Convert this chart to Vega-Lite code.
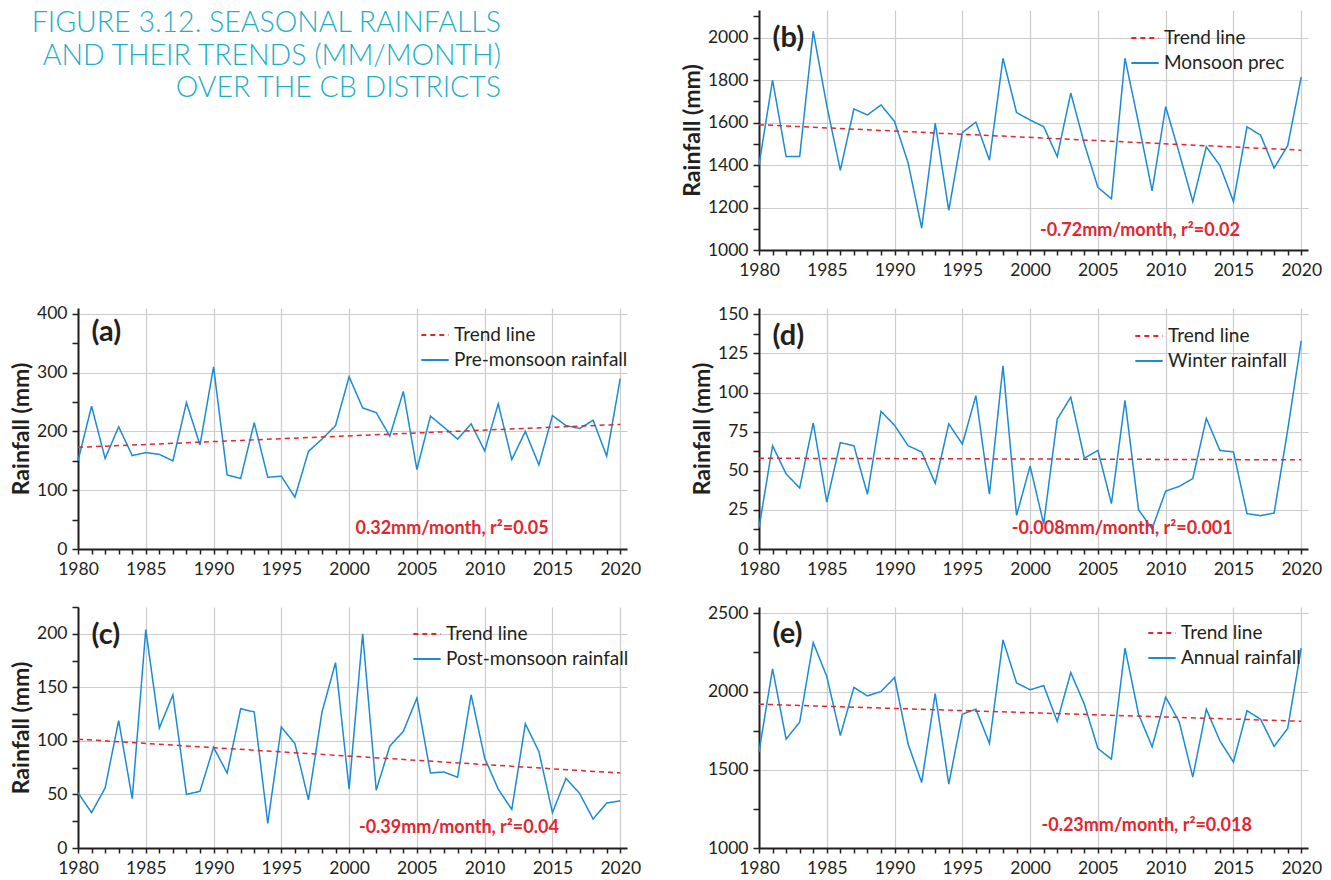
{
  "$schema": "https://vega.github.io/schema/vega-lite/v6.json",
  "padding": {"left": 10, "top": 7, "right": 5, "bottom": 5},
  "background": "white",
  "datasets": {
    "a": [
      {"year":1980,"rainfall":150,"series":"Pre-monsoon rainfall"},{"year":1981,"rainfall":243,"series":"Pre-monsoon rainfall"},{"year":1982,"rainfall":154,"series":"Pre-monsoon rainfall"},{"year":1983,"rainfall":208,"series":"Pre-monsoon rainfall"},{"year":1984,"rainfall":159,"series":"Pre-monsoon rainfall"},{"year":1985,"rainfall":164,"series":"Pre-monsoon rainfall"},{"year":1986,"rainfall":161,"series":"Pre-monsoon rainfall"},{"year":1987,"rainfall":150,"series":"Pre-monsoon rainfall"},{"year":1988,"rainfall":249,"series":"Pre-monsoon rainfall"},{"year":1989,"rainfall":177,"series":"Pre-monsoon rainfall"},{"year":1990,"rainfall":310,"series":"Pre-monsoon rainfall"},{"year":1991,"rainfall":126,"series":"Pre-monsoon rainfall"},{"year":1992,"rainfall":120,"series":"Pre-monsoon rainfall"},{"year":1993,"rainfall":215,"series":"Pre-monsoon rainfall"},{"year":1994,"rainfall":122,"series":"Pre-monsoon rainfall"},{"year":1995,"rainfall":124,"series":"Pre-monsoon rainfall"},{"year":1996,"rainfall":88,"series":"Pre-monsoon rainfall"},{"year":1997,"rainfall":166,"series":"Pre-monsoon rainfall"},{"year":1998,"rainfall":187,"series":"Pre-monsoon rainfall"},{"year":1999,"rainfall":210,"series":"Pre-monsoon rainfall"},{"year":2000,"rainfall":293,"series":"Pre-monsoon rainfall"},{"year":2001,"rainfall":240,"series":"Pre-monsoon rainfall"},{"year":2002,"rainfall":232,"series":"Pre-monsoon rainfall"},{"year":2003,"rainfall":192,"series":"Pre-monsoon rainfall"},{"year":2004,"rainfall":268,"series":"Pre-monsoon rainfall"},{"year":2005,"rainfall":135,"series":"Pre-monsoon rainfall"},{"year":2006,"rainfall":226,"series":"Pre-monsoon rainfall"},{"year":2007,"rainfall":207,"series":"Pre-monsoon rainfall"},{"year":2008,"rainfall":187,"series":"Pre-monsoon rainfall"},{"year":2009,"rainfall":213,"series":"Pre-monsoon rainfall"},{"year":2010,"rainfall":167,"series":"Pre-monsoon rainfall"},{"year":2011,"rainfall":247,"series":"Pre-monsoon rainfall"},{"year":2012,"rainfall":152,"series":"Pre-monsoon rainfall"},{"year":2013,"rainfall":200,"series":"Pre-monsoon rainfall"},{"year":2014,"rainfall":143,"series":"Pre-monsoon rainfall"},{"year":2015,"rainfall":227,"series":"Pre-monsoon rainfall"},{"year":2016,"rainfall":210,"series":"Pre-monsoon rainfall"},{"year":2017,"rainfall":205,"series":"Pre-monsoon rainfall"},{"year":2018,"rainfall":219,"series":"Pre-monsoon rainfall"},{"year":2019,"rainfall":158,"series":"Pre-monsoon rainfall"},{"year":2020,"rainfall":290,"series":"Pre-monsoon rainfall"},
      {"year":1980,"rainfall":173,"series":"Trend line"},{"year":2020,"rainfall":212,"series":"Trend line"}
    ],
    "b": [
      {"year":1980,"rainfall":1400,"series":"Monsoon prec"},{"year":1981,"rainfall":1800,"series":"Monsoon prec"},{"year":1982,"rainfall":1440,"series":"Monsoon prec"},{"year":1983,"rainfall":1440,"series":"Monsoon prec"},{"year":1984,"rainfall":2030,"series":"Monsoon prec"},{"year":1985,"rainfall":1680,"series":"Monsoon prec"},{"year":1986,"rainfall":1375,"series":"Monsoon prec"},{"year":1987,"rainfall":1664,"series":"Monsoon prec"},{"year":1988,"rainfall":1636,"series":"Monsoon prec"},{"year":1989,"rainfall":1683,"series":"Monsoon prec"},{"year":1990,"rainfall":1605,"series":"Monsoon prec"},{"year":1991,"rainfall":1410,"series":"Monsoon prec"},{"year":1992,"rainfall":1103,"series":"Monsoon prec"},{"year":1993,"rainfall":1597,"series":"Monsoon prec"},{"year":1994,"rainfall":1186,"series":"Monsoon prec"},{"year":1995,"rainfall":1553,"series":"Monsoon prec"},{"year":1996,"rainfall":1602,"series":"Monsoon prec"},{"year":1997,"rainfall":1423,"series":"Monsoon prec"},{"year":1998,"rainfall":1902,"series":"Monsoon prec"},{"year":1999,"rainfall":1647,"series":"Monsoon prec"},{"year":2000,"rainfall":1612,"series":"Monsoon prec"},{"year":2001,"rainfall":1581,"series":"Monsoon prec"},{"year":2002,"rainfall":1440,"series":"Monsoon prec"},{"year":2003,"rainfall":1739,"series":"Monsoon prec"},{"year":2004,"rainfall":1500,"series":"Monsoon prec"},{"year":2005,"rainfall":1295,"series":"Monsoon prec"},{"year":2006,"rainfall":1241,"series":"Monsoon prec"},{"year":2007,"rainfall":1903,"series":"Monsoon prec"},{"year":2008,"rainfall":1597,"series":"Monsoon prec"},{"year":2009,"rainfall":1278,"series":"Monsoon prec"},{"year":2010,"rainfall":1675,"series":"Monsoon prec"},{"year":2011,"rainfall":1456,"series":"Monsoon prec"},{"year":2012,"rainfall":1228,"series":"Monsoon prec"},{"year":2013,"rainfall":1486,"series":"Monsoon prec"},{"year":2014,"rainfall":1398,"series":"Monsoon prec"},{"year":2015,"rainfall":1228,"series":"Monsoon prec"},{"year":2016,"rainfall":1580,"series":"Monsoon prec"},{"year":2017,"rainfall":1541,"series":"Monsoon prec"},{"year":2018,"rainfall":1386,"series":"Monsoon prec"},{"year":2019,"rainfall":1491,"series":"Monsoon prec"},{"year":2020,"rainfall":1814,"series":"Monsoon prec"},
      {"year":1980,"rainfall":1590,"series":"Trend line"},{"year":2020,"rainfall":1470,"series":"Trend line"}
    ],
    "c": [
      {"year":1980,"rainfall":51.6,"series":"Post-monsoon rainfall"},{"year":1981,"rainfall":33,"series":"Post-monsoon rainfall"},{"year":1982,"rainfall":56,"series":"Post-monsoon rainfall"},{"year":1983,"rainfall":119,"series":"Post-monsoon rainfall"},{"year":1984,"rainfall":46,"series":"Post-monsoon rainfall"},{"year":1985,"rainfall":204,"series":"Post-monsoon rainfall"},{"year":1986,"rainfall":112,"series":"Post-monsoon rainfall"},{"year":1987,"rainfall":143,"series":"Post-monsoon rainfall"},{"year":1988,"rainfall":50,"series":"Post-monsoon rainfall"},{"year":1989,"rainfall":53,"series":"Post-monsoon rainfall"},{"year":1990,"rainfall":94,"series":"Post-monsoon rainfall"},{"year":1991,"rainfall":70,"series":"Post-monsoon rainfall"},{"year":1992,"rainfall":130,"series":"Post-monsoon rainfall"},{"year":1993,"rainfall":127,"series":"Post-monsoon rainfall"},{"year":1994,"rainfall":23,"series":"Post-monsoon rainfall"},{"year":1995,"rainfall":113,"series":"Post-monsoon rainfall"},{"year":1996,"rainfall":97.5,"series":"Post-monsoon rainfall"},{"year":1997,"rainfall":45,"series":"Post-monsoon rainfall"},{"year":1998,"rainfall":127,"series":"Post-monsoon rainfall"},{"year":1999,"rainfall":173,"series":"Post-monsoon rainfall"},{"year":2000,"rainfall":55,"series":"Post-monsoon rainfall"},{"year":2001,"rainfall":200,"series":"Post-monsoon rainfall"},{"year":2002,"rainfall":54,"series":"Post-monsoon rainfall"},{"year":2003,"rainfall":95,"series":"Post-monsoon rainfall"},{"year":2004,"rainfall":109,"series":"Post-monsoon rainfall"},{"year":2005,"rainfall":140,"series":"Post-monsoon rainfall"},{"year":2006,"rainfall":70,"series":"Post-monsoon rainfall"},{"year":2007,"rainfall":71,"series":"Post-monsoon rainfall"},{"year":2008,"rainfall":66,"series":"Post-monsoon rainfall"},{"year":2009,"rainfall":143,"series":"Post-monsoon rainfall"},{"year":2010,"rainfall":84,"series":"Post-monsoon rainfall"},{"year":2011,"rainfall":55,"series":"Post-monsoon rainfall"},{"year":2012,"rainfall":36,"series":"Post-monsoon rainfall"},{"year":2013,"rainfall":116,"series":"Post-monsoon rainfall"},{"year":2014,"rainfall":90,"series":"Post-monsoon rainfall"},{"year":2015,"rainfall":33,"series":"Post-monsoon rainfall"},{"year":2016,"rainfall":65,"series":"Post-monsoon rainfall"},{"year":2017,"rainfall":51,"series":"Post-monsoon rainfall"},{"year":2018,"rainfall":27,"series":"Post-monsoon rainfall"},{"year":2019,"rainfall":42,"series":"Post-monsoon rainfall"},{"year":2020,"rainfall":44,"series":"Post-monsoon rainfall"},
      {"year":1980,"rainfall":101.6,"series":"Trend line"},{"year":2020,"rainfall":70,"series":"Trend line"}
    ],
    "d": [
      {"year":1980,"rainfall":13.6,"series":"Winter rainfall"},{"year":1981,"rainfall":66,"series":"Winter rainfall"},{"year":1982,"rainfall":48,"series":"Winter rainfall"},{"year":1983,"rainfall":39,"series":"Winter rainfall"},{"year":1984,"rainfall":80.5,"series":"Winter rainfall"},{"year":1985,"rainfall":30,"series":"Winter rainfall"},{"year":1986,"rainfall":68,"series":"Winter rainfall"},{"year":1987,"rainfall":66,"series":"Winter rainfall"},{"year":1988,"rainfall":35,"series":"Winter rainfall"},{"year":1989,"rainfall":88,"series":"Winter rainfall"},{"year":1990,"rainfall":79,"series":"Winter rainfall"},{"year":1991,"rainfall":66,"series":"Winter rainfall"},{"year":1992,"rainfall":62,"series":"Winter rainfall"},{"year":1993,"rainfall":42,"series":"Winter rainfall"},{"year":1994,"rainfall":80,"series":"Winter rainfall"},{"year":1995,"rainfall":67,"series":"Winter rainfall"},{"year":1996,"rainfall":98,"series":"Winter rainfall"},{"year":1997,"rainfall":35,"series":"Winter rainfall"},{"year":1998,"rainfall":117,"series":"Winter rainfall"},{"year":1999,"rainfall":21.5,"series":"Winter rainfall"},{"year":2000,"rainfall":53,"series":"Winter rainfall"},{"year":2001,"rainfall":16,"series":"Winter rainfall"},{"year":2002,"rainfall":83,"series":"Winter rainfall"},{"year":2003,"rainfall":97,"series":"Winter rainfall"},{"year":2004,"rainfall":58,"series":"Winter rainfall"},{"year":2005,"rainfall":63,"series":"Winter rainfall"},{"year":2006,"rainfall":29,"series":"Winter rainfall"},{"year":2007,"rainfall":95,"series":"Winter rainfall"},{"year":2008,"rainfall":25,"series":"Winter rainfall"},{"year":2009,"rainfall":13,"series":"Winter rainfall"},{"year":2010,"rainfall":37,"series":"Winter rainfall"},{"year":2011,"rainfall":40,"series":"Winter rainfall"},{"year":2012,"rainfall":45,"series":"Winter rainfall"},{"year":2013,"rainfall":83.5,"series":"Winter rainfall"},{"year":2014,"rainfall":63,"series":"Winter rainfall"},{"year":2015,"rainfall":62,"series":"Winter rainfall"},{"year":2016,"rainfall":22.6,"series":"Winter rainfall"},{"year":2017,"rainfall":21.3,"series":"Winter rainfall"},{"year":2018,"rainfall":23,"series":"Winter rainfall"},{"year":2019,"rainfall":76,"series":"Winter rainfall"},{"year":2020,"rainfall":133,"series":"Winter rainfall"},
      {"year":1980,"rainfall":58,"series":"Trend line"},{"year":2020,"rainfall":57,"series":"Trend line"}
    ],
    "e": [
      {"year":1980,"rainfall":1615,"series":"Annual rainfall"},{"year":1981,"rainfall":2145,"series":"Annual rainfall"},{"year":1982,"rainfall":1696,"series":"Annual rainfall"},{"year":1983,"rainfall":1804,"series":"Annual rainfall"},{"year":1984,"rainfall":2313,"series":"Annual rainfall"},{"year":1985,"rainfall":2096,"series":"Annual rainfall"},{"year":1986,"rainfall":1719,"series":"Annual rainfall"},{"year":1987,"rainfall":2026,"series":"Annual rainfall"},{"year":1988,"rainfall":1972,"series":"Annual rainfall"},{"year":1989,"rainfall":2000,"series":"Annual rainfall"},{"year":1990,"rainfall":2089,"series":"Annual rainfall"},{"year":1991,"rainfall":1664,"series":"Annual rainfall"},{"year":1992,"rainfall":1419,"series":"Annual rainfall"},{"year":1993,"rainfall":1987,"series":"Annual rainfall"},{"year":1994,"rainfall":1408,"series":"Annual rainfall"},{"year":1995,"rainfall":1855,"series":"Annual rainfall"},{"year":1996,"rainfall":1887,"series":"Annual rainfall"},{"year":1997,"rainfall":1668,"series":"Annual rainfall"},{"year":1998,"rainfall":2330,"series":"Annual rainfall"},{"year":1999,"rainfall":2055,"series":"Annual rainfall"},{"year":2000,"rainfall":2011,"series":"Annual rainfall"},{"year":2001,"rainfall":2038,"series":"Annual rainfall"},{"year":2002,"rainfall":1809,"series":"Annual rainfall"},{"year":2003,"rainfall":2121,"series":"Annual rainfall"},{"year":2004,"rainfall":1919,"series":"Annual rainfall"},{"year":2005,"rainfall":1636,"series":"Annual rainfall"},{"year":2006,"rainfall":1568,"series":"Annual rainfall"},{"year":2007,"rainfall":2277,"series":"Annual rainfall"},{"year":2008,"rainfall":1855,"series":"Annual rainfall"},{"year":2009,"rainfall":1647,"series":"Annual rainfall"},{"year":2010,"rainfall":1964,"series":"Annual rainfall"},{"year":2011,"rainfall":1806,"series":"Annual rainfall"},{"year":2012,"rainfall":1453,"series":"Annual rainfall"},{"year":2013,"rainfall":1887,"series":"Annual rainfall"},{"year":2014,"rainfall":1685,"series":"Annual rainfall"},{"year":2015,"rainfall":1549,"series":"Annual rainfall"},{"year":2016,"rainfall":1877,"series":"Annual rainfall"},{"year":2017,"rainfall":1823,"series":"Annual rainfall"},{"year":2018,"rainfall":1649,"series":"Annual rainfall"},{"year":2019,"rainfall":1764,"series":"Annual rainfall"},{"year":2020,"rainfall":2277,"series":"Annual rainfall"},
      {"year":1980,"rainfall":1919,"series":"Trend line"},{"year":2020,"rainfall":1810,"series":"Trend line"}
    ]
  },
  "bounds": "flush",
  "columns": 2,
  "spacing": {"row": 58, "column": 132},
  "resolve": {"scale": {"color": "independent", "strokeDash": "independent"}},
  "concat": [
    {
      "width": 549, "height": 240,
      "data": {"values": [{"t": ""}]},
      "mark": {"type": "text", "text": ""},
      "encoding": {},
      "title": {
        "text": ["FIGURE 3.12. SEASONAL RAINFALLS", "AND THEIR TRENDS (MM/MONTH)", "OVER THE CB DISTRICTS"],
        "anchor": "end", "align": "right", "baseline": "top", "offset": -93, "dx": -126,
        "fontSize": 28.5, "lineHeight": 32.7, "font": "Lato", "fontWeight": 300, "color": "#1bb0c5"
      }
    },
    {
      "width": 549, "height": 240,
      "data": {"name": "b"},
      "encoding": {
        "x": {"field": "year", "type": "quantitative", "scale": {"domain": [1980, 2020.5], "nice": false, "zero": false},
          "axis": {"title": null, "values": [1980,1981,1982,1983,1984,1985,1986,1987,1988,1989,1990,1991,1992,1993,1994,1995,1996,1997,1998,1999,2000,2001,2002,2003,2004,2005,2006,2007,2008,2009,2010,2011,2012,2013,2014,2015,2016,2017,2018,2019,2020], "format": "d", "labelExpr": "datum.value % 5 === 0 ? datum.label : ''", "gridOpacity": {"condition": {"test": "datum.value % 5 === 0", "value": 1}, "value": 0}, "tickSize": 5}},
        "y": {"field": "rainfall", "type": "quantitative", "scale": {"domain": [1000, 2130], "nice": false, "zero": false},
          "axis": {"title": "Rainfall (mm)", "values": [1000,1100,1200,1300,1400,1500,1600,1700,1800,1900,2000,2100], "format": "d", "labelExpr": "datum.value % 200 === 0 ? datum.label : ''", "gridOpacity": {"condition": {"test": "datum.value % 200 === 0", "value": 1}, "value": 0}, "tickSize": 6}}
      },
      "layer": [
        {"transform": [{"filter": "datum.series !== 'Trend line'"}], "mark": {"type": "line", "strokeWidth": 1.5},
          "encoding": {
            "color": {"field": "series", "type": "nominal", "scale": {"domain": ["Trend line", "Monsoon prec"], "range": ["#e3262f", "#1a8bd6"]}, "legend": {"title": null, "orient": "none", "legendX": 371, "legendY": 13}},
            "strokeDash": {"field": "series", "type": "nominal", "scale": {"domain": ["Trend line", "Monsoon prec"], "range": [[5, 4], [1, 0]]}, "legend": {"title": null, "orient": "none", "legendX": 371, "legendY": 13}}
          }},
        {"transform": [{"filter": "datum.series === 'Trend line'"}], "mark": {"type": "line", "strokeWidth": 1.5},
          "encoding": {
            "color": {"field": "series", "type": "nominal", "scale": {"domain": ["Trend line", "Monsoon prec"], "range": ["#e3262f", "#1a8bd6"]}, "legend": {"title": null, "orient": "none", "legendX": 371, "legendY": 13}},
            "strokeDash": {"field": "series", "type": "nominal", "scale": {"domain": ["Trend line", "Monsoon prec"], "range": [[5, 4], [1, 0]]}, "legend": {"title": null, "orient": "none", "legendX": 371, "legendY": 13}}
          }},
        {"transform": [{"filter": "datum.series === 'Trend line' && datum.year === 1980"}], "mark": {"type": "text", "text": "(b)", "fontSize": 29, "fontWeight": "bold", "align": "left", "baseline": "middle", "color": "#231f20"},
          "encoding": {"x": {"datum": 1981}, "y": {"datum": 2000}}},
        {"transform": [{"filter": "datum.series === 'Trend line' && datum.year === 1980"}], "mark": {"type": "text", "text": "-0.72mm/month, r²=0.02", "fontSize": 18, "fontWeight": "bold", "align": "center", "baseline": "middle", "color": "#e3262f"},
          "encoding": {"x": {"datum": 2008.1}, "y": {"datum": 1089}}}
      ]
    },
    {
      "width": 549, "height": 241,
      "data": {"name": "a"},
      "encoding": {
        "x": {"field": "year", "type": "quantitative", "scale": {"domain": [1980, 2020.5], "nice": false, "zero": false},
          "axis": {"title": null, "values": [1980,1981,1982,1983,1984,1985,1986,1987,1988,1989,1990,1991,1992,1993,1994,1995,1996,1997,1998,1999,2000,2001,2002,2003,2004,2005,2006,2007,2008,2009,2010,2011,2012,2013,2014,2015,2016,2017,2018,2019,2020], "format": "d", "labelExpr": "datum.value % 5 === 0 ? datum.label : ''", "gridOpacity": {"condition": {"test": "datum.value % 5 === 0", "value": 1}, "value": 0}, "tickSize": 5}},
        "y": {"field": "rainfall", "type": "quantitative", "scale": {"domain": [0, 410], "nice": false, "zero": false},
          "axis": {"title": "Rainfall (mm)", "values": [0,50,100,150,200,250,300,350,400], "format": "d", "labelExpr": "datum.value % 100 === 0 ? datum.label : ''", "gridOpacity": {"condition": {"test": "datum.value % 100 === 0", "value": 1}, "value": 0}, "tickSize": 6}}
      },
      "layer": [
        {"transform": [{"filter": "datum.series !== 'Trend line'"}], "mark": {"type": "line", "strokeWidth": 1.5},
          "encoding": {
            "color": {"field": "series", "type": "nominal", "scale": {"domain": ["Trend line", "Pre-monsoon rainfall"], "range": ["#e3262f", "#1a8bd6"]}, "legend": {"title": null, "orient": "none", "legendX": 342, "legendY": 12}},
            "strokeDash": {"field": "series", "type": "nominal", "scale": {"domain": ["Trend line", "Pre-monsoon rainfall"], "range": [[5, 4], [1, 0]]}, "legend": {"title": null, "orient": "none", "legendX": 342, "legendY": 12}}
          }},
        {"transform": [{"filter": "datum.series === 'Trend line'"}], "mark": {"type": "line", "strokeWidth": 1.5},
          "encoding": {
            "color": {"field": "series", "type": "nominal", "scale": {"domain": ["Trend line", "Pre-monsoon rainfall"], "range": ["#e3262f", "#1a8bd6"]}, "legend": {"title": null, "orient": "none", "legendX": 342, "legendY": 12}},
            "strokeDash": {"field": "series", "type": "nominal", "scale": {"domain": ["Trend line", "Pre-monsoon rainfall"], "range": [[5, 4], [1, 0]]}, "legend": {"title": null, "orient": "none", "legendX": 342, "legendY": 12}}
          }},
        {"transform": [{"filter": "datum.series === 'Trend line' && datum.year === 1980"}], "mark": {"type": "text", "text": "(a)", "fontSize": 29, "fontWeight": "bold", "align": "left", "baseline": "middle", "color": "#231f20"},
          "encoding": {"x": {"datum": 1981}, "y": {"datum": 369}}},
        {"transform": [{"filter": "datum.series === 'Trend line' && datum.year === 1980"}], "mark": {"type": "text", "text": "0.32mm/month, r²=0.05", "fontSize": 18, "fontWeight": "bold", "align": "center", "baseline": "middle", "color": "#e3262f"},
          "encoding": {"x": {"datum": 2007.6}, "y": {"datum": 34}}}
      ]
    },
    {
      "width": 549, "height": 241,
      "data": {"name": "d"},
      "encoding": {
        "x": {"field": "year", "type": "quantitative", "scale": {"domain": [1980, 2020.5], "nice": false, "zero": false},
          "axis": {"title": null, "values": [1980,1981,1982,1983,1984,1985,1986,1987,1988,1989,1990,1991,1992,1993,1994,1995,1996,1997,1998,1999,2000,2001,2002,2003,2004,2005,2006,2007,2008,2009,2010,2011,2012,2013,2014,2015,2016,2017,2018,2019,2020], "format": "d", "labelExpr": "datum.value % 5 === 0 ? datum.label : ''", "gridOpacity": {"condition": {"test": "datum.value % 5 === 0", "value": 1}, "value": 0}, "tickSize": 5}},
        "y": {"field": "rainfall", "type": "quantitative", "scale": {"domain": [0, 154], "nice": false, "zero": false},
          "axis": {"title": "Rainfall (mm)", "values": [0,12.5,25,37.5,50,62.5,75,87.5,100,112.5,125,137.5,150], "labelExpr": "datum.value % 25 === 0 ? format(datum.value, 'd') : ''", "gridOpacity": {"condition": {"test": "datum.value % 25 === 0", "value": 1}, "value": 0}, "tickSize": 6}}
      },
      "layer": [
        {"transform": [{"filter": "datum.series !== 'Trend line'"}], "mark": {"type": "line", "strokeWidth": 1.5},
          "encoding": {
            "color": {"field": "series", "type": "nominal", "scale": {"domain": ["Trend line", "Winter rainfall"], "range": ["#e3262f", "#1a8bd6"]}, "legend": {"title": null, "orient": "none", "legendX": 375, "legendY": 13}},
            "strokeDash": {"field": "series", "type": "nominal", "scale": {"domain": ["Trend line", "Winter rainfall"], "range": [[5, 4], [1, 0]]}, "legend": {"title": null, "orient": "none", "legendX": 375, "legendY": 13}}
          }},
        {"transform": [{"filter": "datum.series === 'Trend line'"}], "mark": {"type": "line", "strokeWidth": 1.5},
          "encoding": {
            "color": {"field": "series", "type": "nominal", "scale": {"domain": ["Trend line", "Winter rainfall"], "range": ["#e3262f", "#1a8bd6"]}, "legend": {"title": null, "orient": "none", "legendX": 375, "legendY": 13}},
            "strokeDash": {"field": "series", "type": "nominal", "scale": {"domain": ["Trend line", "Winter rainfall"], "range": [[5, 4], [1, 0]]}, "legend": {"title": null, "orient": "none", "legendX": 375, "legendY": 13}}
          }},
        {"transform": [{"filter": "datum.series === 'Trend line' && datum.year === 1980"}], "mark": {"type": "text", "text": "(d)", "fontSize": 29, "fontWeight": "bold", "align": "left", "baseline": "middle", "color": "#231f20"},
          "encoding": {"x": {"datum": 1981}, "y": {"datum": 136}}},
        {"transform": [{"filter": "datum.series === 'Trend line' && datum.year === 1980"}], "mark": {"type": "text", "text": "-0.008mm/month, r²=0.001", "fontSize": 18, "fontWeight": "bold", "align": "center", "baseline": "middle", "color": "#e3262f"},
          "encoding": {"x": {"datum": 2006.8}, "y": {"datum": 12.5}}}
      ]
    },
    {
      "width": 549, "height": 241,
      "data": {"name": "c"},
      "encoding": {
        "x": {"field": "year", "type": "quantitative", "scale": {"domain": [1980, 2020.5], "nice": false, "zero": false},
          "axis": {"title": null, "values": [1980,1981,1982,1983,1984,1985,1986,1987,1988,1989,1990,1991,1992,1993,1994,1995,1996,1997,1998,1999,2000,2001,2002,2003,2004,2005,2006,2007,2008,2009,2010,2011,2012,2013,2014,2015,2016,2017,2018,2019,2020], "format": "d", "labelExpr": "datum.value % 5 === 0 ? datum.label : ''", "gridOpacity": {"condition": {"test": "datum.value % 5 === 0", "value": 1}, "value": 0}, "tickSize": 5}},
        "y": {"field": "rainfall", "type": "quantitative", "scale": {"domain": [0, 225], "nice": false, "zero": false},
          "axis": {"title": "Rainfall (mm)", "values": [0,25,50,75,100,125,150,175,200,225], "format": "d", "labelExpr": "datum.value % 50 === 0 ? datum.label : ''", "gridOpacity": {"condition": {"test": "datum.value % 50 === 0", "value": 1}, "value": 0}, "tickSize": 6}}
      },
      "layer": [
        {"transform": [{"filter": "datum.series !== 'Trend line'"}], "mark": {"type": "line", "strokeWidth": 1.5},
          "encoding": {
            "color": {"field": "series", "type": "nominal", "scale": {"domain": ["Trend line", "Post-monsoon rainfall"], "range": ["#e3262f", "#1a8bd6"]}, "legend": {"title": null, "orient": "none", "legendX": 334, "legendY": 12}},
            "strokeDash": {"field": "series", "type": "nominal", "scale": {"domain": ["Trend line", "Post-monsoon rainfall"], "range": [[5, 4], [1, 0]]}, "legend": {"title": null, "orient": "none", "legendX": 334, "legendY": 12}}
          }},
        {"transform": [{"filter": "datum.series === 'Trend line'"}], "mark": {"type": "line", "strokeWidth": 1.5},
          "encoding": {
            "color": {"field": "series", "type": "nominal", "scale": {"domain": ["Trend line", "Post-monsoon rainfall"], "range": ["#e3262f", "#1a8bd6"]}, "legend": {"title": null, "orient": "none", "legendX": 334, "legendY": 12}},
            "strokeDash": {"field": "series", "type": "nominal", "scale": {"domain": ["Trend line", "Post-monsoon rainfall"], "range": [[5, 4], [1, 0]]}, "legend": {"title": null, "orient": "none", "legendX": 334, "legendY": 12}}
          }},
        {"transform": [{"filter": "datum.series === 'Trend line' && datum.year === 1980"}], "mark": {"type": "text", "text": "(c)", "fontSize": 29, "fontWeight": "bold", "align": "left", "baseline": "middle", "color": "#231f20"},
          "encoding": {"x": {"datum": 1981}, "y": {"datum": 199}}},
        {"transform": [{"filter": "datum.series === 'Trend line' && datum.year === 1980"}], "mark": {"type": "text", "text": "-0.39mm/month, r²=0.04", "fontSize": 18, "fontWeight": "bold", "align": "center", "baseline": "middle", "color": "#e3262f"},
          "encoding": {"x": {"datum": 2008.1}, "y": {"datum": 19}}}
      ]
    },
    {
      "width": 549, "height": 241,
      "data": {"name": "e"},
      "encoding": {
        "x": {"field": "year", "type": "quantitative", "scale": {"domain": [1980, 2020.5], "nice": false, "zero": false},
          "axis": {"title": null, "values": [1980,1981,1982,1983,1984,1985,1986,1987,1988,1989,1990,1991,1992,1993,1994,1995,1996,1997,1998,1999,2000,2001,2002,2003,2004,2005,2006,2007,2008,2009,2010,2011,2012,2013,2014,2015,2016,2017,2018,2019,2020], "format": "d", "labelExpr": "datum.value % 5 === 0 ? datum.label : ''", "gridOpacity": {"condition": {"test": "datum.value % 5 === 0", "value": 1}, "value": 0}, "tickSize": 5}},
        "y": {"field": "rainfall", "type": "quantitative", "scale": {"domain": [1000, 2540], "nice": false, "zero": false},
          "axis": {"title": null, "values": [1000,1250,1500,1750,2000,2250,2500], "format": "d", "labelExpr": "datum.value % 500 === 0 ? datum.label : ''", "gridOpacity": {"condition": {"test": "datum.value % 500 === 0", "value": 1}, "value": 0}, "tickSize": 6}}
      },
      "layer": [
        {"transform": [{"filter": "datum.series !== 'Trend line'"}], "mark": {"type": "line", "strokeWidth": 1.5},
          "encoding": {
            "color": {"field": "series", "type": "nominal", "scale": {"domain": ["Trend line", "Annual rainfall"], "range": ["#e3262f", "#1a8bd6"]}, "legend": {"title": null, "orient": "none", "legendX": 388, "legendY": 11}},
            "strokeDash": {"field": "series", "type": "nominal", "scale": {"domain": ["Trend line", "Annual rainfall"], "range": [[5, 4], [1, 0]]}, "legend": {"title": null, "orient": "none", "legendX": 388, "legendY": 11}}
          }},
        {"transform": [{"filter": "datum.series === 'Trend line'"}], "mark": {"type": "line", "strokeWidth": 1.5},
          "encoding": {
            "color": {"field": "series", "type": "nominal", "scale": {"domain": ["Trend line", "Annual rainfall"], "range": ["#e3262f", "#1a8bd6"]}, "legend": {"title": null, "orient": "none", "legendX": 388, "legendY": 11}},
            "strokeDash": {"field": "series", "type": "nominal", "scale": {"domain": ["Trend line", "Annual rainfall"], "range": [[5, 4], [1, 0]]}, "legend": {"title": null, "orient": "none", "legendX": 388, "legendY": 11}}
          }},
        {"transform": [{"filter": "datum.series === 'Trend line' && datum.year === 1980"}], "mark": {"type": "text", "text": "(e)", "fontSize": 29, "fontWeight": "bold", "align": "left", "baseline": "middle", "color": "#231f20"},
          "encoding": {"x": {"datum": 1981}, "y": {"datum": 2367}}},
        {"transform": [{"filter": "datum.series === 'Trend line' && datum.year === 1980"}], "mark": {"type": "text", "text": "-0.23mm/month, r²=0.018", "fontSize": 18, "fontWeight": "bold", "align": "center", "baseline": "middle", "color": "#e3262f"},
          "encoding": {"x": {"datum": 2008.6}, "y": {"datum": 1140}}}
      ]
    }
  ],
  "config": {
    "view": {"stroke": null},
    "font": "Lato",
    "axis": {
      "domainColor": "#231f20", "domainWidth": 2, "tickColor": "#231f20", "tickWidth": 1.5,
      "gridColor": "#cccccc", "gridWidth": 1.2,
      "labelFont": "Lato", "labelFontSize": 17.5, "labelColor": "#231f20",
      "labelOverlap": false, "labelFlush": false,
      "titleFont": "Lato", "titleFontSize": 23, "titleFontWeight": "bold", "titleColor": "#231f20", "titlePadding": 3
    },
    "axisX": {"labelPadding": 6},
    "axisY": {"labelPadding": 5},
    "legend": {
      "labelFont": "Lato", "labelFontSize": 19, "labelColor": "#231f20", "labelLimit": 300,
      "symbolType": "stroke", "symbolStrokeWidth": 2, "symbolSize": 750, "rowPadding": -2, "labelOffset": 4
    }
  }
}
